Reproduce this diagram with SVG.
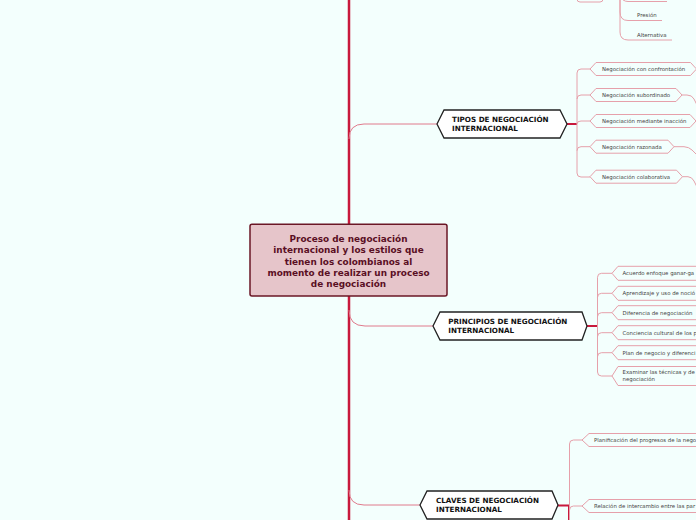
<svg xmlns="http://www.w3.org/2000/svg" width="696" height="520" viewBox="0 0 696 520">
<style>
.trunk{stroke:#c8193c;stroke-width:2.5;fill:none}
.red{stroke:#c8193c;stroke-width:2;fill:none}
.br{stroke:#e07a8c;stroke-width:1;fill:none}
.pk{stroke:#e6a0aa;stroke-width:1;fill:none}
.hex{fill:#ffffff;stroke:#222222;stroke-width:1.3}
.child{fill:#f3fffd;stroke:#e6a0aa;stroke-width:1}
.ht{font-family:"DejaVu Sans",Verdana,sans-serif;font-weight:bold;font-size:7.2px;fill:#111111}
.ct{font-family:"DejaVu Sans",Verdana,sans-serif;font-size:5.4px;fill:#444444}
.mt{font-family:"DejaVu Sans",Verdana,sans-serif;font-weight:bold;font-size:8.9px;fill:#5a0f24;text-anchor:middle}
</style>
<rect x="0" y="0" width="696" height="520" fill="#f3fffd"/>
<g id="connectors">
<line class="trunk" x1="349" y1="0" x2="349" y2="520"/>
<path class="br" d="M349,139 Q349,124 364,124 H437"/>
<path class="br" d="M349,310 Q349,326 365,326 H433"/>
<path class="br" d="M349,490 Q349,505 364,505 H420"/>
<path class="red" d="M567,124 H577"/>
<path class="red" d="M587,326 H597.5"/>
<path class="red" d="M558,505.5 H569 V520"/>
<path class="pk" d="M577,124 V73 Q577,69 581,69 H590"/>
<path class="pk" d="M577,124 V173 Q577,177 581,177 H590"/>
<path class="pk" d="M577,99 Q577,95 581,95 H590"/>
<path class="pk" d="M577,124 Q577,121 581,121 H590"/>
<path class="pk" d="M577,150.7 Q577,146.7 581,146.7 H590"/>
<path class="pk" d="M682,95 H687 Q692,95 694,99 L697,105"/>
<path class="pk" d="M674,146.7 H684 Q689,147 692,150 L697,155"/>
<path class="pk" d="M682.5,176.7 H688 Q692,177 694,181 L697,187"/>
<path class="pk" d="M597.5,326 V277.3 Q597.5,273.3 601.5,273.3 H612"/>
<path class="pk" d="M597.5,326 V372 Q597.5,376 601.5,376 H612"/>
<path class="pk" d="M597.5,297.3 Q597.5,293.3 601.5,293.3 H612"/>
<path class="pk" d="M597.5,316.7 Q597.5,312.7 601.5,312.7 H612"/>
<path class="pk" d="M597.5,326 V336.7 Q597.5,332.7 601.5,332.7 H612"/>
<path class="pk" d="M597.5,356.7 Q597.5,352.7 601.5,352.7 H612"/>
<path class="pk" d="M569.5,520 V444 Q569.5,440 573.5,440 H582"/>
<path class="pk" d="M569.5,510 Q569.5,506 573.5,506 H582"/>
<path class="pk" d="M620,-5 V12 Q620,20.5 628,20.5 H662"/>
<path class="pk" d="M620,-5 V32 Q620,40 628,40 H672"/>
<path class="pk" d="M620,-5 Q622,1.5 628,1.5 H667"/>
</g>
<g id="top-node"><rect class="child" x="577" y="-12" width="26" height="14" rx="3"/></g>
<g id="presion"><text class="ct" x="637" y="17">Presión</text></g>
<g id="alternativa"><text class="ct" x="637" y="36.5">Alternativa</text></g>
<g id="center">
<rect x="250" y="224.3" width="197" height="71.7" rx="2" fill="#e6c5ca" stroke="#6b1726" stroke-width="1.5"/>
<text class="mt" x="348.5" y="242.3">Proceso de negociación</text>
<text class="mt" x="348.5" y="253.4">internacional y los estilos que</text>
<text class="mt" x="348.5" y="264.5">tienen los colombianos al</text>
<text class="mt" x="348.5" y="275.6">momento de realizar un proceso</text>
<text class="mt" x="348.5" y="286.6">de negociación</text>
</g>
<g id="tipos">
<path class="hex" d="M437,124 L444,110 H560 L567,124 L560,138 H444 Z"/>
<text class="ht" x="452" y="121.7">TIPOS DE NEGOCIACIÓN</text>
<text class="ht" x="452" y="131">INTERNACIONAL</text>
</g>
<g id="t1"><path class="child" d="M590,69 L596,62.5 H690.5 L696.5,69 L690.5,75.5 H596 Z"/><text class="ct" x="602" y="71">Negociación con confrontación</text></g>
<g id="t2"><path class="child" d="M590,95 L596,88.5 H676 L682,95 L676,101.5 H596 Z"/><text class="ct" x="602" y="97">Negociación subordinado</text></g>
<g id="t3"><path class="child" d="M590,121 L596,114.5 H690 L696,121 L690,127.5 H596 Z"/><text class="ct" x="602" y="123">Negociación mediante inacción</text></g>
<g id="t4"><path class="child" d="M590,146.7 L596,140.2 H668 L674,146.7 L668,153.2 H596 Z"/><text class="ct" x="602" y="148.7">Negociación razonada</text></g>
<g id="t5"><path class="child" d="M590,176.7 L596,170.2 H676.5 L682.5,176.7 L676.5,183.2 H596 Z"/><text class="ct" x="602" y="178.7">Negociación colaborativa</text></g>
<g id="principios">
<path class="hex" d="M433,326 L440,312 H582 L587,326 L582,340 H440 Z"/>
<text class="ht" x="448.3" y="324">PRINCIPIOS DE NEGOCIACIÓN</text>
<text class="ht" x="448.3" y="332.8">INTERNACIONAL</text>
</g>
<g id="p1"><path class="child" d="M612,273.3 L618,266.3 H720 V280.3 H618 Z"/><text class="ct" x="622.5" y="275.3">Acuerdo enfoque ganar-ga</text></g>
<g id="p2"><path class="child" d="M612,293.3 L618,286.3 H720 V300.3 H618 Z"/><text class="ct" x="622.5" y="295.3">Aprendizaje y uso de noció</text></g>
<g id="p3"><path class="child" d="M612,312.7 L618,305.7 H720 V319.7 H618 Z"/><text class="ct" x="622.5" y="314.7">Diferencia de negociación</text></g>
<g id="p4"><path class="child" d="M612,332.7 L618,325.7 H720 V339.7 H618 Z"/><text class="ct" x="622.5" y="334.7">Conciencia cultural de los p</text></g>
<g id="p5"><path class="child" d="M612,352.7 L618,345.7 H720 V359.7 H618 Z"/><text class="ct" x="622.5" y="354.7">Plan de negocio y diferenci</text></g>
<g id="p6"><path class="child" d="M612,376 L618,366.5 H720 V385.5 H618 Z"/><text class="ct" x="622.5" y="373.6">Examinar las técnicas y de</text><text class="ct" x="622.5" y="380.9">negociación</text></g>
<g id="claves">
<path class="hex" d="M420,505 L427,491 H552 L558,505 L552,519 H427 Z"/>
<text class="ht" x="436" y="503.3">CLAVES DE NEGOCIACIÓN</text>
<text class="ht" x="436" y="512.3">INTERNACIONAL</text>
</g>
<g id="c1"><path class="child" d="M582,440 L589,433.5 H720 V446.5 H589 Z"/><text class="ct" x="594" y="442">Planificación del progresos de la nego</text></g>
<g id="c2"><path class="child" d="M582,506 L589,499.5 H720 V512.5 H589 Z"/><text class="ct" x="594" y="508">Relación de intercambio entre las par</text></g>
</svg>
